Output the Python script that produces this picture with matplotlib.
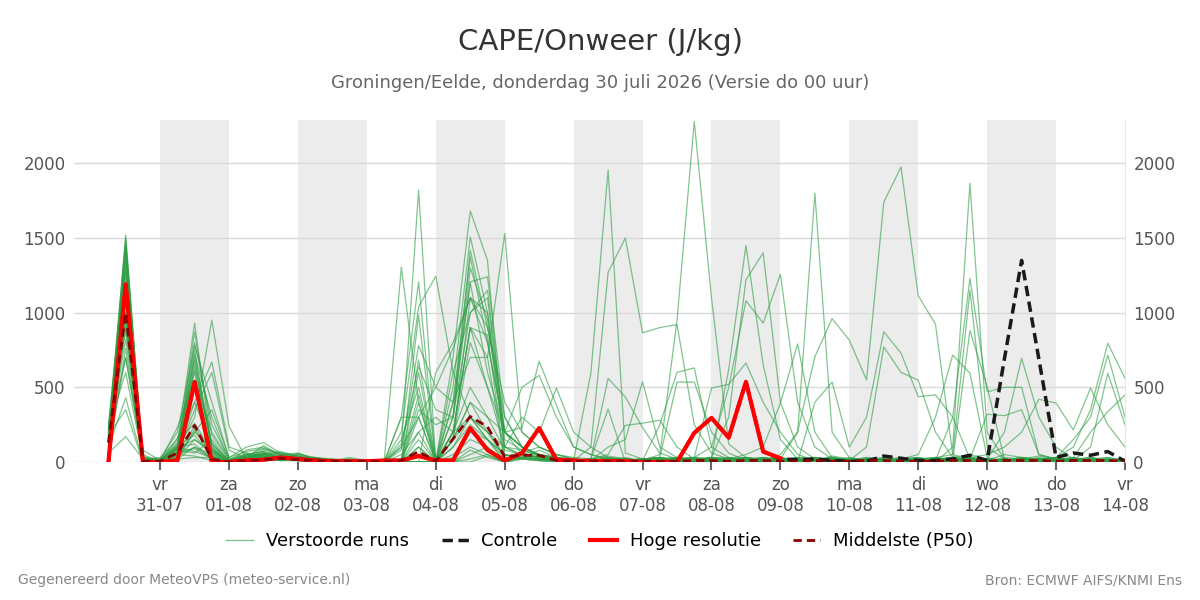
import numpy as np
import pandas as pd
import matplotlib
matplotlib.use("Agg")
import matplotlib.pyplot as plt
from matplotlib.lines import Line2D

## Tijdas: 6-uurlijkse stappen van do 30-07 06 uur tot vr 14-08 00 uur
times = pd.date_range("2026-07-30 06:00", "2026-08-14 00:00", freq="6h")

members = [
    [150, 1520, 20, 10, 120, 930, 80, 10, 40, 60, 30, 20, 10, 5, 0,
     5, 0, 1306, 400, 0, 100, 300, 150, 20, 30, 10, 5, 0, 20, 10,
     0, 5, 10, 30, 20, 10, 0, 5, 20, 10, 0, 10, 30, 20, 10,
     5, 0, 10, 20, 30, 10, 5, 0, 10, 20, 10, 5, 0, 10, 0],
    [200, 1450, 10, 0, 80, 300, 950, 240, 20, 30, 20, 30, 10, 5, 10,
     0, 0, 100, 1820, 0, 150, 400, 200, 30, 20, 10, 0, 10, 595, 1955,
     60, 20, 10, 0, 30, 10, 0, 20, 10, 5, 0, 10, 20, 0, 10,
     10, 20, 0, 10, 5, 30, 10, 0, 20, 10, 5, 0, 10, 0, 5],
    [100, 1400, 0, 10, 60, 400, 670, 100, 60, 20, 40, 50, 20, 10, 5,
     10, 0, 300, 1206, 0, 200, 900, 500, 100, 80, 40, 20, 10, 100, 1270,
     1500, 865, 900, 920, 250, 60, 20, 10, 0, 10, 30, 20, 10, 0, 5,
     10, 0, 20, 30, 10, 0, 10, 20, 5, 0, 10, 20, 0, 5, 0],
    [250, 1380, 30, 20, 200, 780, 400, 30, 100, 130, 60, 40, 20, 10, 10,
     5, 0, 200, 1040, 1245, 600, 300, 150, 50, 20, 80, 30, 10, 20, 10,
     20, 10, 50, 950, 2280, 1100, 120, 30, 10, 20, 0, 10, 40, 20, 10,
     0, 10, 20, 5, 30, 10, 0, 20, 10, 30, 10, 0, 10, 20, 5],
    [0, 1350, 10, 0, 40, 720, 300, 10, 20, 80, 50, 30, 30, 10, 20,
     0, 0, 50, 200, 0, 700, 1681, 1350, 40, 60, 100, 50, 20, 10, 30,
     10, 20, 30, 535, 535, 200, 60, 10, 0, 20, 10, 30, 10, 0, 20,
     10, 0, 5, 20, 30, 10, 0, 10, 20, 40, 20, 10, 0, 5, 10],
    [180, 1300, 0, 0, 30, 650, 100, 0, 10, 20, 10, 60, 20, 20, 10,
     0, 0, 100, 300, 0, 500, 1507, 1000, 100, 50, 30, 20, 10, 20, 560,
     435, 230, 60, 20, 0, 10, 20, 30, 10, 0, 10, 20, 5, 10, 0,
     20, 10, 0, 30, 10, 5, 20, 10, 0, 10, 20, 30, 10, 0, 5],
    [120, 1250, 20, 30, 150, 600, 60, 0, 40, 50, 70, 40, 10, 0, 0,
     5, 0, 0, 150, 0, 300, 1418, 900, 300, 100, 50, 30, 10, 20, 355,
     0, 10, 250, 600, 630, 100, 30, 10, 20, 0, 10, 30, 20, 10, 0,
     10, 20, 5, 0, 10, 30, 20, 10, 0, 20, 10, 5, 10, 0, 10],
    [220, 1200, 80, 10, 230, 550, 200, 20, 30, 110, 40, 30, 20, 10, 30,
     10, 0, 0, 683, 0, 400, 1373, 800, 200, 50, 30, 20, 10, 20, 50,
     245, 260, 280, 100, 20, 10, 30, 0, 10, 20, 10, 0, 20, 10, 5,
     10, 0, 20, 10, 30, 0, 10, 20, 5, 0, 10, 20, 10, 0, 0],
    [80, 1150, 0, 0, 20, 220, 40, 0, 0, 30, 20, 20, 10, 5, 0,
     0, 0, 0, 983, 0, 300, 1206, 1240, 300, 100, 40, 30, 20, 10, 100,
     150, 537, 100, 30, 10, 0, 20, 10, 5, 20, 10, 30, 10, 0, 10,
     0, 10, 20, 5, 10, 30, 0, 10, 20, 10, 0, 5, 20, 10, 0],
    [50, 1100, 10, 0, 100, 70, 30, 0, 50, 40, 30, 10, 0, 0, 10,
     0, 0, 0, 300, 0, 400, 700, 700, 1530, 200, 100, 50, 30, 20, 10,
     5, 10, 0, 20, 30, 495, 520, 663, 400, 200, 50, 10, 20, 10, 0,
     10, 20, 0, 10, 5, 20, 10, 0, 30, 10, 5, 10, 20, 0, 10],
    [160, 1050, 0, 20, 60, 350, 600, 80, 20, 10, 40, 30, 30, 20, 10,
     10, 0, 0, 200, 300, 200, 500, 300, 200, 500, 580, 300, 100, 50, 20,
     10, 0, 20, 10, 5, 30, 620, 1450, 650, 150, 20, 10, 0, 10, 20,
     10, 0, 5, 20, 10, 0, 20, 10, 30, 10, 0, 10, 5, 20, 0],
    [200, 700, 50, 0, 100, 120, 20, 0, 10, 20, 10, 20, 10, 10, 0,
     0, 0, 0, 100, 0, 150, 800, 500, 200, 230, 675, 380, 100, 50, 20,
     10, 20, 5, 0, 10, 30, 300, 1220, 1400, 400, 100, 20, 10, 0, 10,
     20, 10, 0, 10, 30, 5, 0, 20, 10, 0, 10, 30, 10, 5, 0],
    [230, 600, 20, 10, 80, 60, 150, 0, 30, 60, 20, 30, 0, 0, 0,
     5, 0, 20, 450, 0, 150, 300, 200, 100, 300, 200, 495, 200, 100, 30,
     10, 20, 0, 10, 30, 100, 500, 1080, 930, 1257, 400, 100, 20, 10, 0,
     0, 10, 20, 10, 5, 20, 0, 10, 30, 10, 0, 20, 10, 0, 10],
    [100, 430, 0, 0, 50, 200, 350, 30, 70, 90, 50, 20, 20, 0, 10,
     0, 0, 0, 50, 0, 30, 100, 50, 0, 30, 20, 10, 0, 10, 5,
     0, 10, 20, 0, 10, 30, 20, 50, 100, 395, 790, 200, 30, 10, 0,
     10, 20, 0, 10, 30, 5, 0, 10, 20, 10, 0, 5, 10, 20, 0],
    [180, 350, 0, 0, 30, 150, 80, 0, 20, 40, 60, 40, 10, 10, 0,
     5, 0, 0, 100, 0, 0, 200, 150, 0, 50, 30, 20, 10, 0, 10,
     0, 20, 10, 5, 0, 10, 30, 20, 10, 50, 200, 1800, 200, 30, 10,
     0, 10, 20, 5, 10, 0, 20, 10, 30, 10, 0, 10, 20, 5, 0],
    [60, 170, 20, 10, 20, 100, 30, 0, 10, 20, 20, 10, 10, 0, 0,
     0, 0, 0, 0, 0, 0, 50, 100, 0, 20, 10, 20, 5, 0, 10,
     20, 10, 0, 30, 20, 10, 0, 10, 30, 20, 200, 705, 960, 816, 549,
     1740, 1975, 1113, 923, 50, 20, 10, 0, 10, 20, 30, 10, 0, 5, 10],
    [140, 1480, 10, 0, 90, 800, 250, 20, 50, 70, 30, 20, 10, 10, 5,
     0, 0, 80, 780, 500, 762, 1100, 900, 400, 200, 100, 50, 20, 10, 20,
     10, 20, 30, 10, 0, 20, 10, 30, 20, 10, 0, 400, 535, 100, 300,
     872, 729, 437, 450, 300, 20, 10, 0, 10, 20, 10, 0, 20, 10, 5],
    [90, 1420, 0, 10, 110, 700, 120, 10, 60, 40, 20, 50, 30, 10, 10,
     10, 0, 150, 500, 0, 600, 1000, 1150, 200, 100, 50, 30, 10, 20, 40,
     20, 10, 0, 20, 30, 10, 20, 0, 10, 30, 10, 20, 0, 10, 100,
     771, 600, 548, 200, 30, 10, 20, 0, 10, 20, 30, 10, 5, 0, 10],
    [210, 1330, 20, 0, 70, 680, 90, 0, 20, 60, 40, 30, 20, 10, 0,
     0, 0, 0, 400, 0, 200, 900, 700, 0, 50, 30, 20, 10, 20, 10,
     0, 10, 20, 30, 10, 0, 20, 10, 30, 10, 5, 20, 10, 0, 10,
     20, 30, 10, 0, 100, 1866, 200, 20, 10, 0, 10, 20, 30, 10, 5],
    [30, 1000, 0, 0, 40, 100, 50, 0, 10, 30, 20, 20, 10, 5, 10,
     0, 0, 0, 0, 0, 100, 250, 150, 50, 30, 20, 10, 0, 10, 20,
     10, 0, 30, 20, 10, 30, 20, 10, 0, 20, 10, 0, 20, 10, 30,
     10, 20, 30, 10, 300, 1230, 470, 500, 500, 50, 20, 10, 0, 10, 20],
    [170, 920, 10, 20, 130, 260, 70, 10, 40, 90, 60, 30, 20, 10, 20,
     5, 0, 0, 350, 250, 300, 1000, 1100, 150, 80, 40, 20, 10, 10, 20,
     10, 20, 0, 10, 30, 20, 10, 0, 10, 20, 30, 10, 0, 20, 10,
     20, 10, 0, 30, 50, 1150, 100, 20, 10, 0, 20, 10, 30, 10, 0],
    [110, 880, 0, 0, 60, 240, 40, 0, 20, 50, 30, 10, 10, 0, 10,
     0, 0, 0, 600, 0, 200, 900, 850, 0, 60, 30, 20, 10, 20, 10,
     20, 0, 10, 20, 30, 10, 0, 20, 10, 30, 10, 20, 5, 10, 20,
     30, 10, 20, 0, 10, 880, 504, 20, 10, 0, 10, 20, 10, 0, 10],
    [240, 1000, 40, 0, 160, 400, 110, 10, 80, 100, 50, 60, 20, 10, 10,
     0, 0, 300, 300, 500, 400, 1200, 600, 200, 100, 50, 30, 20, 10, 30,
     20, 10, 30, 0, 10, 20, 10, 30, 10, 0, 20, 10, 30, 10, 20,
     10, 20, 50, 300, 716, 595, 30, 10, 20, 10, 0, 10, 20, 30, 10],
    [60, 960, 10, 10, 70, 90, 20, 0, 10, 40, 20, 30, 10, 10, 0,
     10, 0, 0, 0, 0, 200, 300, 200, 50, 30, 20, 10, 0, 10, 20,
     10, 20, 0, 10, 20, 30, 0, 10, 20, 10, 30, 20, 10, 0, 10,
     20, 10, 0, 10, 30, 50, 20, 200, 695, 300, 100, 20, 0, 10, 20],
    [200, 900, 20, 0, 50, 40, 10, 0, 20, 30, 10, 20, 0, 0, 10,
     0, 0, 0, 0, 0, 50, 150, 100, 0, 40, 20, 10, 10, 20, 10,
     20, 10, 0, 30, 10, 20, 10, 0, 10, 20, 10, 30, 10, 20, 0,
     10, 20, 30, 10, 0, 30, 50, 100, 200, 420, 395, 214, 495, 250, 100],
    [130, 820, 0, 10, 90, 150, 60, 0, 30, 50, 20, 10, 10, 0, 0,
     0, 0, 0, 0, 0, 0, 80, 30, 0, 50, 30, 20, 10, 0, 10,
     10, 20, 30, 10, 0, 10, 20, 30, 10, 0, 20, 10, 30, 10, 0,
     10, 20, 0, 10, 20, 10, 0, 30, 20, 10, 30, 100, 350, 795, 560],
    [90, 700, 10, 0, 30, 200, 90, 0, 40, 20, 30, 20, 10, 10, 0,
     0, 0, 0, 0, 0, 150, 1100, 800, 200, 100, 50, 30, 20, 10, 10,
     0, 10, 20, 30, 10, 0, 10, 20, 30, 10, 0, 20, 10, 30, 10,
     20, 10, 0, 10, 30, 20, 10, 0, 20, 10, 30, 150, 300, 716, 300],
    [160, 980, 30, 10, 110, 180, 40, 0, 20, 60, 20, 10, 20, 0, 10,
     10, 0, 0, 0, 0, 0, 20, 50, 0, 60, 30, 20, 10, 10, 20,
     10, 20, 30, 0, 10, 20, 10, 30, 0, 10, 20, 10, 0, 20, 10,
     10, 0, 20, 30, 10, 20, 320, 310, 350, 50, 20, 10, 100, 595, 250],
    [40, 760, 0, 0, 20, 30, 30, 0, 10, 20, 10, 10, 0, 0, 0,
     0, 0, 0, 0, 0, 0, 0, 40, 0, 20, 10, 0, 10, 20, 10,
     20, 10, 0, 10, 20, 30, 10, 0, 20, 10, 0, 10, 20, 10, 30,
     20, 10, 30, 0, 10, 20, 10, 50, 30, 20, 10, 30, 200, 337, 448],
    [210, 1500, 0, 0, 60, 870, 180, 10, 30, 50, 20, 40, 10, 10, 10,
     0, 0, 120, 640, 350, 300, 1300, 950, 100, 40, 20, 10, 10, 20, 10,
     20, 10, 0, 20, 10, 30, 20, 0, 10, 20, 10, 0, 20, 10, 0,
     10, 20, 10, 0, 20, 30, 10, 20, 0, 10, 20, 10, 30, 10, 0],
    [70, 1440, 10, 20, 90, 750, 70, 0, 20, 40, 10, 30, 20, 10, 0,
     0, 0, 0, 0, 0, 150, 400, 300, 80, 50, 30, 20, 10, 0, 10,
     10, 20, 30, 10, 0, 10, 20, 10, 30, 0, 10, 20, 10, 0, 20,
     10, 0, 20, 10, 30, 20, 10, 0, 10, 20, 30, 10, 0, 20, 10],
    [190, 1280, 20, 0, 100, 620, 130, 0, 50, 70, 40, 20, 10, 10, 10,
     10, 0, 0, 0, 600, 800, 1100, 1000, 200, 100, 40, 20, 10, 10, 20,
     30, 10, 20, 0, 10, 20, 30, 10, 0, 20, 10, 30, 10, 0, 10,
     20, 10, 0, 30, 10, 20, 0, 10, 30, 10, 20, 0, 10, 30, 10],
]

## Hoge resolutie (HRES) - loopt tot 09-08 00 uur
hres = [0, 1190, 0, 0, 10, 535, 0, 0, 10, 15, 30, 20, 10, 5, 5,
        5, 10, 10, 40, 10, 10, 227, 80, 10, 60, 227, 15, 10, 5, 5,
        5, 0, 0, 0, 195, 295, 163, 537, 70, 25]

## Controle run
control = [0, 1190, 0, 0, 10, 535, 0, 0, 10, 15, 30, 20, 10, 5, 5,
           5, 10, 10, 40, 10, 10, 227, 80, 10, 60, 227, 15, 10, 5, 5,
           5, 0, 0, 0, 195, 295, 163, 537, 70, 20, 15, 20, 10, 5, 5,
           40, 25, 10, 10, 20, 45, 10, 690, 1350, 690, 30, 60, 45, 70, 5]

## Middelste (P50)
median = [130, 1000, 5, 5, 60, 245, 20, 0, 10, 15, 25, 15, 10, 5, 5,
          5, 0, 10, 70, 5, 155, 305, 235, 35, 45, 45, 10, 5, 5, 5,
          5, 5, 5, 5, 10, 10, 5, 10, 10, 5, 5, 10, 5, 5, 10,
          10, 5, 5, 5, 10, 10, 5, 10, 10, 10, 5, 10, 10, 10, 5]

## As-labels
tick_dates = pd.date_range("2026-07-31", "2026-08-14", freq="D")
tick_labels = ["vr\n31-07", "za\n01-08", "zo\n02-08", "ma\n03-08", "di\n04-08",
               "wo\n05-08", "do\n06-08", "vr\n07-08", "za\n08-08", "zo\n09-08",
               "ma\n10-08", "di\n11-08", "wo\n12-08", "do\n13-08", "vr\n14-08"]
shaded_days = ["2026-07-31", "2026-08-02", "2026-08-04", "2026-08-06",
               "2026-08-08", "2026-08-10", "2026-08-12"]

member_color = "#2e9e44"
control_dash = (0, (3, 1.6))
median_dash = (0, (3, 1.8))

fig = plt.figure(figsize=(12, 6), dpi=100)
ax = fig.add_axes([74 / 1200, 1 - 462 / 600, (1125 - 74) / 1200, (462 - 120) / 600])

for d in shaded_days:
    start = pd.Timestamp(d)
    ax.axvspan(start, start + pd.Timedelta(days=1), color="#ececec", lw=0, zorder=0)

for m in members:
    ax.plot(times, m, color=member_color, lw=0.9, alpha=0.6, zorder=2)

ax.plot(times, control, color="#1a1a1a", lw=2.5, ls=control_dash, zorder=3)
ax.plot(times[:len(hres)], hres, color="#ff0000", lw=3, zorder=4)
ax.plot(times, median, color="#8b0000", lw=2, ls=median_dash, zorder=5)

ax.set_xlim(pd.Timestamp("2026-07-29 18:00"), pd.Timestamp("2026-08-14 00:00"))
ax.set_ylim(0, 2290)
ax.set_yticks([0, 500, 1000, 1500, 2000])
ax.set_xticks(tick_dates)
ax.set_xticklabels(tick_labels)
ax.grid(axis="y", color="#d9d9d9", lw=1, zorder=1)
ax.set_axisbelow(True)
for side in ["left", "top", "bottom"]:
    ax.spines[side].set_visible(False)
ax.spines["right"].set_color("#e6e6e6")
ax.tick_params(axis="y", length=0, labelleft=True, labelright=True,
               labelsize=12, labelcolor="#555555", pad=6)
ax.tick_params(axis="x", length=6, width=1.5, color="#666666", labelsize=12,
               labelcolor="#555555", pad=4)

fig.text(0.5, 1 - 42 / 600, "CAPE/Onweer (J/kg)", ha="center", va="center",
         fontsize=21, color="#333333")
fig.text(0.5, 1 - 83 / 600, "Groningen/Eelde, donderdag 30 juli 2026 (Versie do 00 uur)",
         ha="center", va="center", fontsize=13, color="#666666")

handles = [
    Line2D([], [], color=member_color, lw=1, alpha=0.6),
    Line2D([], [], color="#1a1a1a", lw=2.5, ls=control_dash),
    Line2D([], [], color="#ff0000", lw=3),
    Line2D([], [], color="#8b0000", lw=2, ls=median_dash),
]
fig.legend(handles, ["Verstoorde runs", "Controle", "Hoge resolutie", "Middelste (P50)"],
           loc="center", bbox_to_anchor=(0.5, 1 - 541 / 600), ncol=4, frameon=False,
           fontsize=13, handlelength=1.5, handletextpad=0.7, columnspacing=1.8)

fig.text(18 / 1200, 1 - 580 / 600, "Gegenereerd door MeteoVPS (meteo-service.nl)",
         ha="left", va="center", fontsize=10, color="#888888")
fig.text(1182 / 1200, 1 - 580 / 600, "Bron: ECMWF AIFS/KNMI Ens",
         ha="right", va="center", fontsize=10, color="#888888")

fig.savefig("out.png", dpi=100)
